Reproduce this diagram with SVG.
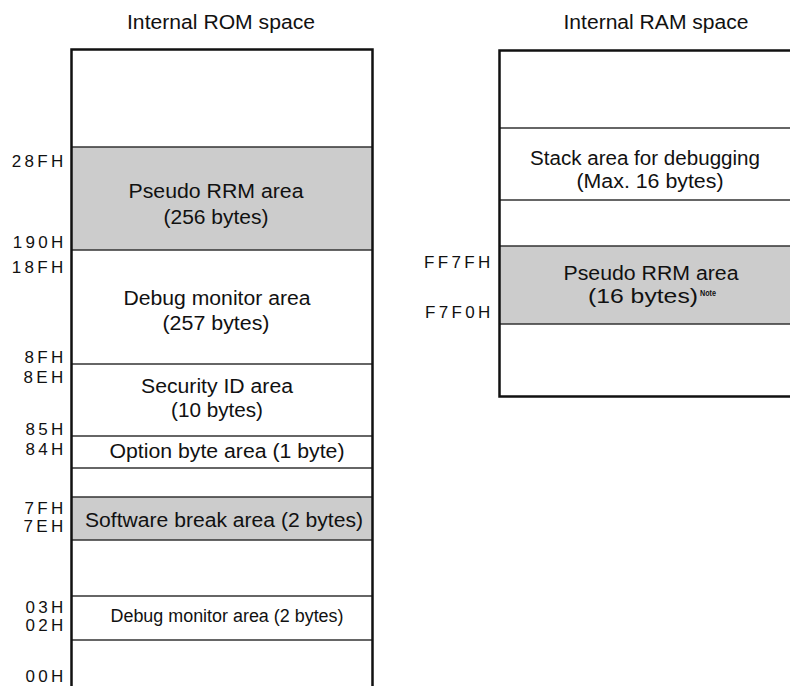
<svg xmlns="http://www.w3.org/2000/svg" width="790" height="686" viewBox="0 0 790 686">
<style>
  .t { font-family: "Liberation Sans", Arial, sans-serif; font-size: 20px; fill: #111; text-anchor: middle; }
  .s { font-size: 18px; }
  .a { font-family: "Liberation Sans", Arial, sans-serif; font-size: 17px; fill: #111; text-anchor: end; letter-spacing: 3.3px; }
  .note { font-family: "Liberation Sans", Arial, sans-serif; font-size: 9px; font-weight: bold; fill: #111; }
  .gray { fill: #cccccc; stroke: none; }
  .div { stroke: #333; stroke-width: 1.3; fill: none; }
  .outer { stroke: #111; stroke-width: 2.5; fill: none; }
</style>
<rect width="790" height="686" fill="#ffffff"/>

<g id="titles">
  <text class="t" x="221" y="29" textLength="188" lengthAdjust="spacingAndGlyphs">Internal ROM space</text>
  <text class="t" x="656" y="29" textLength="185" lengthAdjust="spacingAndGlyphs">Internal RAM space</text>
</g>

<g id="rom-space">
  <rect class="gray" x="72" y="147" width="300" height="103"/>
  <rect class="gray" x="72" y="497" width="300" height="43"/>
  <g class="div">
    <line x1="72" y1="147" x2="372" y2="147"/>
    <line x1="72" y1="250" x2="372" y2="250"/>
    <line x1="72" y1="364" x2="372" y2="364"/>
    <line x1="72" y1="436" x2="372" y2="436"/>
    <line x1="72" y1="468" x2="372" y2="468"/>
    <line x1="72" y1="497" x2="372" y2="497"/>
    <line x1="72" y1="540" x2="372" y2="540"/>
    <line x1="72" y1="596" x2="372" y2="596"/>
    <line x1="72" y1="640" x2="372" y2="640"/>
  </g>
  <path class="outer" d="M71.5,690 V49.5 H372.5 V690"/>
</g>

<g id="rom-pseudo-rrm">
  <text class="t" x="216" y="198" textLength="175" lengthAdjust="spacingAndGlyphs">Pseudo RRM area</text>
  <text class="t" x="216" y="224" textLength="105" lengthAdjust="spacingAndGlyphs">(256 bytes)</text>
</g>
<g id="rom-debug-monitor">
  <text class="t" x="217" y="305" textLength="187" lengthAdjust="spacingAndGlyphs">Debug monitor area</text>
  <text class="t" x="216" y="330" textLength="107" lengthAdjust="spacingAndGlyphs">(257 bytes)</text>
</g>
<g id="rom-security-id">
  <text class="t" x="217" y="393" textLength="152" lengthAdjust="spacingAndGlyphs">Security ID area</text>
  <text class="t" x="217" y="417" textLength="92" lengthAdjust="spacingAndGlyphs">(10 bytes)</text>
</g>
<g id="rom-option-byte">
  <text class="t" x="227" y="458" textLength="235" lengthAdjust="spacingAndGlyphs">Option byte area (1 byte)</text>
</g>
<g id="rom-software-break">
  <text class="t" x="224" y="527" textLength="278" lengthAdjust="spacingAndGlyphs">Software break area (2 bytes)</text>
</g>
<g id="rom-debug-monitor-2">
  <text class="t s" x="227" y="622" textLength="233" lengthAdjust="spacingAndGlyphs">Debug monitor area (2 bytes)</text>
</g>

<g id="rom-addresses">
  <text class="a" x="66.5" y="167">28FH</text>
  <text class="a" x="66.5" y="248">190H</text>
  <text class="a" x="66.5" y="273">18FH</text>
  <text class="a" x="66.5" y="363">8FH</text>
  <text class="a" x="66.5" y="383">8EH</text>
  <text class="a" x="66.5" y="435">85H</text>
  <text class="a" x="66.5" y="455">84H</text>
  <text class="a" x="66.5" y="514">7FH</text>
  <text class="a" x="66.5" y="532">7EH</text>
  <text class="a" x="66.5" y="613">03H</text>
  <text class="a" x="66.5" y="631">02H</text>
  <text class="a" x="66.5" y="682">00H</text>
</g>

<g id="ram-space">
  <rect class="gray" x="499" y="246" width="300" height="78"/>
  <g class="div">
    <line x1="499" y1="128" x2="800" y2="128"/>
    <line x1="499" y1="200" x2="800" y2="200"/>
    <line x1="499" y1="246" x2="800" y2="246"/>
    <line x1="499" y1="324" x2="800" y2="324"/>
  </g>
  <path class="outer" d="M800,50.5 H499.5 V396.5 H800"/>
</g>

<g id="ram-stack">
  <text class="t" x="645" y="165" textLength="230" lengthAdjust="spacingAndGlyphs">Stack area for debugging</text>
  <text class="t" x="650" y="188" textLength="147" lengthAdjust="spacingAndGlyphs">(Max. 16 bytes)</text>
</g>
<g id="ram-pseudo-rrm">
  <text class="t" x="651" y="280" textLength="175" lengthAdjust="spacingAndGlyphs">Pseudo RRM area</text>
  <text class="t" x="643" y="303" textLength="110" lengthAdjust="spacingAndGlyphs">(16 bytes)</text>
  <text class="note" x="700" y="296" textLength="16" lengthAdjust="spacingAndGlyphs">Note</text>
</g>

<g id="ram-addresses">
  <text class="a" x="493.5" y="268">FF7FH</text>
  <text class="a" x="493.5" y="318">F7F0H</text>
</g>
</svg>
